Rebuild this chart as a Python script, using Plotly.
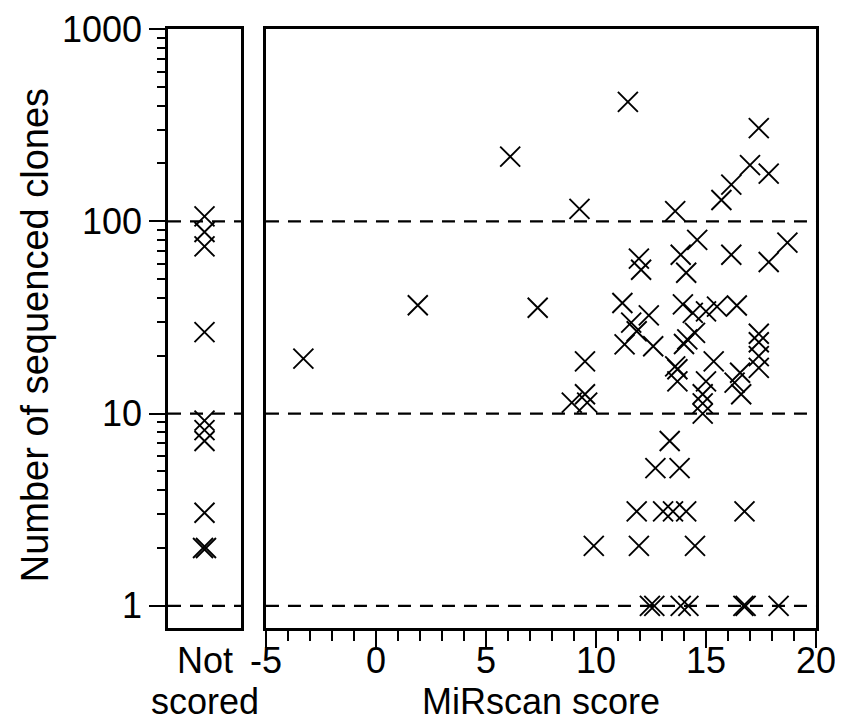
import plotly.graph_objects as go

# ---- data ----
not_scored_clones = [106, 88, 74, 26.5, 9.2, 8.2, 7.2, 3.05, 2.0, 2.0]
not_scored_pos = [0, 0, 0, 0, 0, 0, 0, 0, -0.04, 0.04]

mirscan_score = [-3.3, 1.9, 6.1, 7.35, 8.9, 9.25, 9.5, 9.5, 9.6, 9.9,
                 11.2, 11.45, 11.3, 11.6, 11.85, 11.85, 11.95, 11.95, 12.05, 12.4,
                 12.6, 12.45, 12.65, 12.7, 13.05, 13.35, 13.5, 13.6, 13.6, 13.7,
                 13.7, 13.85, 13.8, 13.85, 13.95, 14.1, 14.0, 14.15, 14.1, 14.2,
                 14.4, 14.5, 14.5, 14.6, 14.85, 14.85, 14.85, 15.0, 15.0, 15.35,
                 15.5, 15.7, 16.15, 16.15, 16.4, 16.3, 16.55, 16.6, 16.75, 16.7,
                 16.8, 17.0, 17.4, 17.4, 17.4, 17.4, 17.4, 17.85, 17.85, 18.3,
                 18.7]
sequenced_clones = [19.3, 36.6, 217, 35.5, 11.4, 116, 18.7, 12.6, 11.4, 2.05,
                    37.6, 418, 22.9, 29.7, 26.8, 3.1, 2.05, 64, 56, 32.4,
                    22.4, 1, 1, 5.2, 3.1, 7.2, 3.1, 113, 17.6, 17.0,
                    14.7, 67, 5.2, 1, 37, 54, 23, 24.3, 3.1, 1,
                    33.4, 26.3, 2.05, 80, 12.6, 11.3, 10.0, 14.7, 34, 18.7,
                    36, 129, 155, 67, 36.5, 14.5, 16.3, 12.6, 3.1, 1,
                    1, 196, 305, 26, 23.5, 19.9, 17.3, 177, 61.4, 1,
                    77.5]

ref_levels = [1, 10, 100]
y_ticks = [1, 10, 100, 1000]
y_minor = [m * d for d in (1, 10, 100) for m in range(2, 10)]
x_ticks = [-5, 0, 5, 10, 15, 20]
x_tick_labels = ["-5", "0", "5", "10", "15", "20"]
y_title = "Number of sequenced clones"
x_title = "MiRscan score"
not_scored_label = ["Not", "scored"]

FONT = "Liberation Sans, Arial, Helvetica, sans-serif"
FS = 36
marker = dict(symbol="x-thin", size=20, color="black",
              line=dict(width=1.9, color="black"))

fig = go.Figure()
fig.add_trace(go.Scatter(x=not_scored_pos, y=not_scored_clones, mode="markers",
                         marker=marker, xaxis="x", yaxis="y", showlegend=False))
fig.add_trace(go.Scatter(x=mirscan_score, y=sequenced_clones, mode="markers",
                         marker=marker, xaxis="x2", yaxis="y2", showlegend=False))

for xr in ("x domain", "x2 domain"):
    yr = "y" if xr == "x domain" else "y2"
    for lv in ref_levels:
        fig.add_shape(type="line", xref=xr, yref=yr, x0=0, x1=1, y0=lv, y1=lv,
                      line=dict(color="black", width=2.2, dash="13px,9px"))

# x tick labels (placed close to the ticks, as in the reference)
for v, t in zip(x_ticks, x_tick_labels):
    fig.add_annotation(x=v, xref="x2", y=-0.054, yref="paper", text=t,
                       showarrow=False, xanchor="center", yanchor="middle",
                       font=dict(size=FS))
fig.add_annotation(x=0.5, xref="x2 domain", y=-0.122, yref="paper", text=x_title,
                   showarrow=False, xanchor="center", yanchor="middle",
                   font=dict(size=FS))
for txt, yy in zip(not_scored_label, [-0.054, -0.122]):
    fig.add_annotation(x=0, xref="x", y=yy, yref="paper", text=txt,
                       showarrow=False, xanchor="center", yanchor="middle",
                       font=dict(size=FS))
fig.add_annotation(x=-0.205, xref="paper", y=0.489, yref="paper", text=y_title,
                   textangle=-90, showarrow=False, xanchor="center",
                   yanchor="middle", font=dict(size=38))

yrange = [-0.115, 3]
border = dict(showline=True, linecolor="black", linewidth=2.5, mirror=True,
              showgrid=False, zeroline=False, automargin=False)

fig.update_layout(
    width=835, height=718,
    margin=dict(l=160, r=27, t=21, b=98),
    paper_bgcolor="white", plot_bgcolor="white",
    font=dict(family=FONT, size=FS, color="black"),
    xaxis=dict(domain=[0, 0.1127], range=[-1, 1], showticklabels=False,
               ticks="", **border),
    xaxis2=dict(domain=[0.1512, 1], range=[-5, 20], tickmode="array",
                tickvals=x_ticks, showticklabels=False,
                ticks="outside", ticklen=17, tickwidth=2, tickcolor="black",
                minor=dict(ticks="outside", ticklen=10, tickwidth=2, dtick=1,
                           tickcolor="black"),
                anchor="y2", **border),
    yaxis=dict(type="log", range=yrange, tickmode="array", tickvals=y_ticks,
               ticktext=[str(v) for v in y_ticks], ticks="outside",
               ticklen=16, tickwidth=2, tickcolor="black",
               minor=dict(ticks="outside", ticklen=8, tickwidth=2,
                          tickmode="array", tickvals=y_minor, tickcolor="black"),
               anchor="x", **border),
    yaxis2=dict(type="log", range=yrange, showticklabels=False, ticks="",
                anchor="x2", matches="y", **border),
)

fig.write_html("out.html")
